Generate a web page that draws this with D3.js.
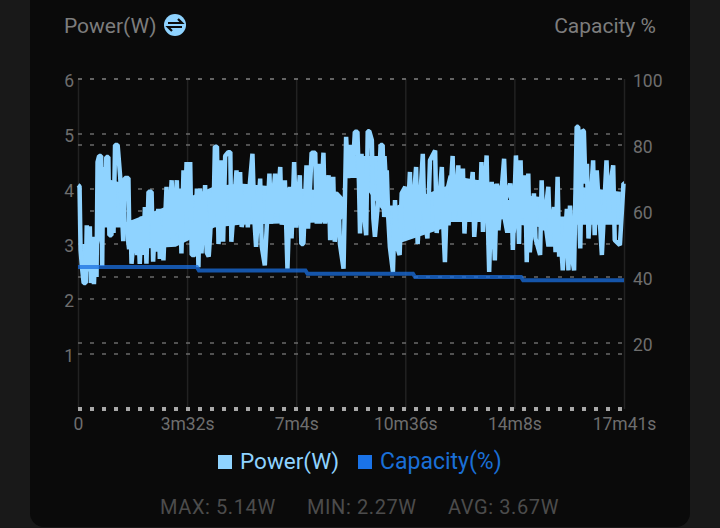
<!DOCTYPE html>
<html>
<head>
<meta charset="utf-8">
<script src="https://cdn.jsdelivr.net/npm/d3@7"></script>
<style>
html, body { margin: 0; padding: 0; background: #191919; }
svg { display: block; font-family: Roboto, sans-serif; }
</style>
</head>
<body>
<div id="chart"></div>
<script>
// values
const powerTimes = [0,3,5,8,11,15,17,20,23,25,28,31,34,36,38,41,45,47,49,52,55,59,61,65,66,69,72,77,82,85,88,91,98,100,102,104,111,115,117,120,124,127,130,133,137,143,146,150,153,156,159,163,166,172,175,182,185,192,195,198,201,205,208,211,214,218,221,227,231,234,237,240,247,250,254,257,260,263,266,270,273,276,279,282,286,292,296,298,308,311,315,318,322,326,330,334,339,343,346,350,354,357,363,372,375,383,386,393,396,402,407,412,415,420,424,431,434,438,444,447,454,461,464,467,470,477,480,487,490,496,499,506,509,516,521,525,529,533,538,543,546,548,551,554,560,563,566,571,574,577,584,588,592,595,600,603,606,612,616,619,625,629,636,639,645,648,657,660,670,673,679,684,694,697,707,710,713,717,720,728,731,739,742,748,751,756,759,767,770,778,781,784,787,794,797,799,804,810,814,817,828,831,840,843,845,851,854,857,860,863,869,872,875,878,886,889,898,901,904,914,917,925,928,932,935,938,942,950,953,956,959,964,969,972,975,976,980,983,986,989,992,1001,1004,1008,1018,1027,1030,1040,1043,1053,1060,1061];
const powerValues = [4.07,4.05,2.89,2.55,2.29,2.29,3.34,2.6,3.32,2.29,3.13,2.27,3.05,2.4,4.49,4.6,4.6,2.6,4.4,3.4,4.58,4.58,3.16,3.16,4.1,3.2,4.8,4.8,4.22,3.64,3.05,4.2,4.2,3.0,3.43,2.64,3.4,2.8,3.3,2.64,3.5,2.8,3.67,2.64,3.95,3.95,2.68,3.49,2.86,3.64,2.73,3.31,2.7,4.04,2.95,4.16,3.0,4.16,3.25,4.01,2.83,4.34,3.6,4.49,3.6,4.49,2.8,2.8,4.01,2.58,4.01,2.83,4.07,2.85,2.77,3.2,3.9,3.4,4.77,4.77,3.0,3.5,4.52,3.04,4.6,4.67,4.67,3.04,4.34,3.5,4.31,3.31,3.5,4.0,3.3,4.1,4.64,3.4,2.95,3.6,4.19,2.96,2.61,4.28,3.37,4.28,3.5,4.4,3.35,4.16,2.55,4.04,3.1,4.49,3.3,4.25,3.0,3.0,4.43,3.28,4.66,4.66,3.37,4.46,3.37,4.66,3.37,4.25,3.07,4.22,3.04,3.86,3.0,2.55,4.95,4.2,4.8,4.22,5.04,5.04,4.1,3.19,4.64,3.7,3.16,5.05,5.05,4.89,3.46,3.13,3.85,4.8,4.8,3.49,4.34,3.46,2.95,2.49,3.8,2.98,2.8,3.92,4.04,3.13,4.31,3.25,4.4,3.0,4.64,3.49,3.1,4.52,4.7,3.2,4.4,3.31,2.67,3.85,3.34,4.6,3.43,4.43,3.52,4.37,3.19,4.13,3.52,4.31,3.13,4.16,3.55,4.49,3.22,4.61,3.2,2.49,4.13,2.7,4.1,3.25,4.55,3.8,4.1,3.64,2.89,4.61,3.9,3.0,4.52,3.46,4.25,2.67,4.28,2.85,3.92,3.1,2.8,4.16,3.25,4.04,3.16,3.67,2.85,4.22,2.77,3.13,2.52,3.64,2.52,3.7,2.83,2.52,5.13,5.13,3.2,2.92,5.07,5.05,4.1,4.46,3.1,4.52,3.16,4.34,2.8,4.52,3.8,4.43,3.07,2.98,4.1,4.1];

// the part of the trace that is solid in the picture (samples too dense to tell apart)
const bandTimes = [8,36,38,50,90,95,190,265,315,505,520,522,545,600,605,620,715,720,785,825,830,850,855,905,910,960,965,1055];
const bandLow = [2.5,2.5,2.9,3.3,3.3,2.9,2.95,3.3,3.35,3.4,3.5,4.2,4.2,3.5,3.0,3.0,3.3,3.4,3.4,3.45,3.2,3.2,3.35,3.3,2.95,2.95,3.35,3.35];
const bandHigh = [3.0,3.0,4.2,4.2,4.1,3.4,3.75,4.05,4.1,3.95,3.8,4.65,4.6,4.6,3.7,3.7,4.05,4.25,4.15,4.05,3.8,3.8,3.9,3.85,3.5,3.5,4.05,3.95];

const capacityTimes = [0,231,235,442,446,651,655,861,865,1061];
const capacityValues = [43,43,42,42,41,41,40,40,39,39];

const powerTicks = [1,2,3,4,5,6];
const capacityTicks = [20,40,60,80,100];
const timeTicks = [0,212,424,636,848,1061];
const timeLabels = ["0","3m32s","7m4s","10m36s","14m8s","17m41s"];
const statLabels = ["MAX: 5.14W","MIN: 2.27W","AVG: 3.67W"];

const width = 720,
    height = 528,
    plotLeft = 78,
    plotRight = 624,
    plotTop = 79,
    plotBottom = 409;

const svg = d3.select("#chart").append("svg")
    .attr("width", width)
    .attr("height", height);

// card
svg.append("path")
    .attr("d", "M30,-10H690V513a14,14 0 0 1 -14,14H44a14,14 0 0 1 -14,-14Z")
    .attr("fill", "#0a0a0a");

const x = d3.scaleLinear().domain([0, 1061]).range([plotLeft, plotRight]);
const yPower = d3.scaleLinear().domain([0, 6]).range([plotBottom, plotTop]);
const yCapacity = d3.scaleLinear().domain([0, 100]).range([plotBottom, plotTop]);

// axes, the long ticks are the grid
const xAxis = svg.append("g")
    .attr("transform", "translate(0," + plotBottom + ")")
    .call(d3.axisBottom(x).tickValues(timeTicks).tickFormat((d, i) => timeLabels[i]).tickSize(-(plotBottom - plotTop)).tickPadding(9));

const leftAxis = svg.append("g")
    .attr("transform", "translate(" + plotLeft + ",0)")
    .call(d3.axisLeft(yPower).tickValues(powerTicks).tickFormat(d3.format("d")).tickSize(0).tickPadding(4));

const rightAxis = svg.append("g")
    .attr("transform", "translate(" + plotRight + ",0)")
    .call(d3.axisRight(yCapacity).tickValues(capacityTicks).tickSize(0).tickPadding(9));

[xAxis, leftAxis, rightAxis].forEach(a => {
    a.select(".domain").remove();
    a.selectAll("text")
        .attr("font-family", "Roboto, sans-serif")
        .attr("font-size", 17.5)
        .attr("fill", "#6e6e6e");
});
leftAxis.selectAll("text").attr("dy", "0.42em");
rightAxis.selectAll("text").attr("dy", "0.42em");
xAxis.selectAll("line").attr("stroke", "#222222").attr("stroke-width", 1.5);

// dashed horizontal grid for both scales
const grid = svg.append("g");
grid.selectAll(".power-grid")
    .data(powerTicks)
    .enter().append("line")
    .attr("class", "power-grid")
    .attr("x1", plotLeft).attr("x2", plotRight)
    .attr("y1", d => yPower(d)).attr("y2", d => yPower(d));
grid.selectAll(".capacity-grid")
    .data(capacityTicks)
    .enter().append("line")
    .attr("class", "capacity-grid")
    .attr("x1", plotLeft).attr("x2", plotRight)
    .attr("y1", d => yCapacity(d)).attr("y2", d => yCapacity(d));
grid.selectAll("line")
    .attr("stroke", "#6a6a6a")
    .attr("stroke-width", 1.5)
    .attr("stroke-dasharray", "4,8");

// dotted base line
svg.append("line")
    .attr("x1", plotLeft).attr("x2", plotRight)
    .attr("y1", yPower(0)).attr("y2", yPower(0))
    .attr("stroke", "#a8a8a8")
    .attr("stroke-width", 4)
    .attr("stroke-dasharray", "4,8");

// series
const powerBand = d3.area()
    .x((d, i) => x(bandTimes[i]))
    .y0((d, i) => yPower(bandLow[i]))
    .y1(d => yPower(d));

svg.append("path")
    .attr("d", powerBand(bandHigh))
    .attr("fill", "#8fd3ff");

const powerLine = d3.line()
    .x((d, i) => x(powerTimes[i]))
    .y(d => yPower(d));

svg.append("path")
    .attr("d", powerLine(powerValues))
    .attr("fill", "none")
    .attr("stroke", "#8fd3ff")
    .attr("stroke-width", 4.5)
    .attr("stroke-linejoin", "bevel");

const capacityLine = d3.line()
    .x((d, i) => x(capacityTimes[i]))
    .y(d => yCapacity(d));

svg.append("path")
    .attr("d", capacityLine(capacityValues))
    .attr("fill", "none")
    .attr("stroke", "#1a6fe0")
    .attr("stroke-opacity", 0.75)
    .attr("stroke-width", 4);

// titles
svg.append("text")
    .attr("x", 64).attr("y", 33)
    .attr("font-size", 21)
    .attr("fill", "#7d7d7d")
    .text("Power(W)");

svg.append("text")
    .attr("x", 656).attr("y", 33)
    .attr("text-anchor", "end")
    .attr("font-size", 21)
    .attr("fill", "#7d7d7d")
    .text("Capacity %");

// swap icon
const icon = svg.append("g").attr("transform", "translate(175,25)");
icon.append("circle").attr("r", 11).attr("fill", "#8fd3ff");
icon.append("path")
    .attr("d", "M-7,-2H7L3,-6M7,2H-7L-3,6")
    .attr("fill", "none")
    .attr("stroke", "#0a0a0a")
    .attr("stroke-width", 2.2);

// legend
svg.append("rect").attr("x", 218).attr("y", 455).attr("width", 14).attr("height", 14).attr("fill", "#8fd3ff");
svg.append("text").attr("x", 240).attr("y", 469).attr("font-size", 22.5).attr("fill", "#8fd3ff").text("Power(W)");
svg.append("rect").attr("x", 358).attr("y", 455).attr("width", 14).attr("height", 14).attr("fill", "#1a73e8");
svg.append("text").attr("x", 380).attr("y", 469).attr("font-size", 23).attr("fill", "#1a6fd6").text("Capacity(%)");

// stats
const statX = [160, 307, 448];
svg.selectAll(".stat")
    .data(statLabels)
    .enter().append("text")
    .attr("class", "stat")
    .attr("x", (d, i) => statX[i])
    .attr("y", 514)
    .attr("font-size", 20)
    .attr("letter-spacing", 0.6)
    .attr("fill", "#4c4c4c")
    .text(d => d);
</script>
</body>
</html>
